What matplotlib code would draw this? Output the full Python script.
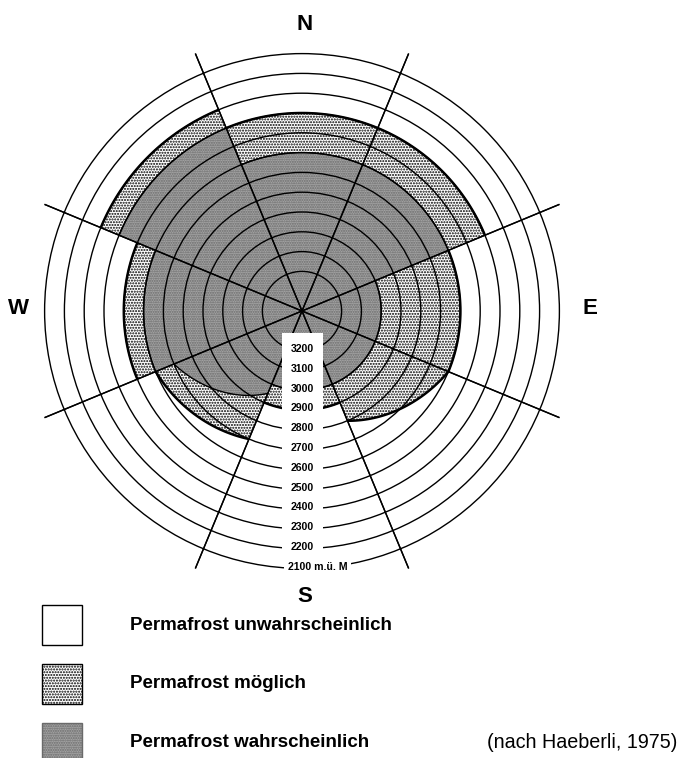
import matplotlib
matplotlib.use("Agg")
import matplotlib.pyplot as plt
from matplotlib.patches import Circle, Rectangle, Polygon
import numpy as np

plt.rcParams['font.family'] = ['Liberation Sans', 'DejaVu Sans']
plt.rcParams['hatch.linewidth'] = 1.0

# Altitude rings (m ü. M.)
altitudes = [2100, 2200, 2300, 2400, 2500, 2600, 2700, 2800, 2900, 3000, 3100, 3200]
apex_altitude = 3400          # ring radius grows with (apex_altitude - altitude)

# Exposure sectors (azimuth of the sector centre, clockwise from north)
directions = ['N', 'NE', 'E', 'SE', 'S', 'SW', 'W', 'NW']
azimuths = [0, 45, 90, 135, 180, 225, 270, 315]

# Lower limits at the two bounding rays of each sector
# (first value: edge at smaller azimuth, second: edge at larger azimuth)
possible_from = [2400, 2400, 2600, 2600, 2900, 2700, 2500, 2300]
possible_to = [2400, 2400, 2600, 2800, 2900, 2600, 2500, 2300]
probable_from = [2600, 2600, 3000, 3000, 3000, 2950, 2600, 2400]
probable_to = [2600, 2600, 3000, 3000, 3000, 2700, 2600, 2400]

legend_labels = ['Permafrost unwahrscheinlich', 'Permafrost möglich',
                 'Permafrost wahrscheinlich']
source_note = '(nach Haeberli, 1975)'

W, H, DPI = 687, 758, 100
SCALE = 0.198                 # pixels per metre of altitude difference
CX, CY = 302, 311             # pole of the diagram in pixels

fig = plt.figure(figsize=(W / DPI, H / DPI), dpi=DPI)
ax = fig.add_axes([0, 0, 1, 1])
ax.set_xlim(-CX / SCALE, (W - CX) / SCALE)
ax.set_ylim((CY - H) / SCALE, CY / SCALE)
ax.axis('off')


def px(x, y):
    """pixel position -> data position"""
    return (x - CX) / SCALE, (CY - y) / SCALE


def radius(alt):
    return apex_altitude - alt


def boundary(az0, az1, alt0, alt1, n=80):
    """outline of a zone between two rays, altitude limit varying linearly"""
    az = np.linspace(az0, az1, n)
    r = radius(np.linspace(alt0, alt1, n))
    th = np.radians(90 - az)
    return r * np.cos(th), r * np.sin(th)


DOT_FACE = 'white'
DOT_HATCH = '......'
GRAY_FACE = '#a4a4a4'
GRAY_HATCH = '.......'
GRAY_DOTS = '#6a6a6a'

for az, p0, p1, w0, w1 in zip(azimuths, possible_from, possible_to,
                              probable_from, probable_to):
    a0, a1 = az - 22.5, az + 22.5
    xs, ys = boundary(a0, a1, p0, p1)
    ax.add_patch(Polygon(np.column_stack([np.r_[0, xs], np.r_[0, ys]]),
                         closed=True, facecolor=DOT_FACE, edgecolor='black',
                         hatch=DOT_HATCH, linewidth=0, zorder=1))
    ax.plot(xs, ys, color='black', lw=1.8, zorder=4, solid_capstyle='butt')
    xg, yg = boundary(a0, a1, w0, w1)
    ax.add_patch(Polygon(np.column_stack([np.r_[0, xg], np.r_[0, yg]]),
                         closed=True, facecolor=GRAY_FACE, edgecolor=GRAY_DOTS,
                         hatch=GRAY_HATCH, linewidth=0, zorder=2))
    ax.plot(xg, yg, color='black', lw=1.0, zorder=3)

# altitude rings
for alt in altitudes:
    ax.add_patch(Circle((0, 0), radius(alt), fill=False, edgecolor='black',
                        linewidth=1.0, zorder=3))

# sector boundaries
ray = radius(altitudes[0]) * 1.08
for az in azimuths:
    th = np.radians(90 - (az + 22.5))
    ax.plot([-ray * np.cos(th), ray * np.cos(th)],
            [-ray * np.sin(th), ray * np.sin(th)],
            color='black', lw=1.0, zorder=3)

# label column
x0, y0 = px(282, 333)
x1, y1 = px(323, 553)
ax.add_patch(Rectangle((x0, y1), x1 - x0, y0 - y1, facecolor='white',
                       edgecolor='none', zorder=5))
for alt in altitudes[1:]:
    ax.text(0, -radius(alt) + 8, str(alt), ha='center', va='center',
            fontsize=7.6, fontweight='bold', zorder=6)
lx, _ = px(288, 0)
ax.text(lx, -radius(altitudes[0]) + 8, f'{altitudes[0]} m.ü. M', ha='left',
        va='center', fontsize=7.6, fontweight='bold', zorder=6,
        bbox=dict(boxstyle='square,pad=0.35', facecolor='white', edgecolor='none'))

# compass letters
for letter, (x, y) in zip(['N', 'E', 'S', 'W'],
                          [(305, 25), (590, 309), (305, 596), (18, 309)]):
    ax.text(*px(x, y), letter, ha='center', va='center', fontsize=16,
            fontweight='bold')

# legend
box_styles = [dict(facecolor='white', edgecolor='black'),
              dict(facecolor=DOT_FACE, hatch=DOT_HATCH, edgecolor='black'),
              dict(facecolor=GRAY_FACE, hatch=GRAY_HATCH, edgecolor=GRAY_DOTS)]
rows = [625, 684, 743]
for lab, st, yrow in zip(legend_labels, box_styles, rows):
    bx0, by0 = px(42, yrow + 20)
    bx1, by1 = px(82, yrow - 20)
    ax.add_patch(Rectangle((bx0, by0), bx1 - bx0, by1 - by0,
                           linewidth=1.0, zorder=2, **st))
    ax.text(*px(130, yrow), lab, ha='left', va='center', fontsize=13.5,
            fontweight='bold')
ax.text(*px(487, 743), source_note, ha='left', va='center', fontsize=14.2)

fig.savefig('out.png', dpi=DPI)
